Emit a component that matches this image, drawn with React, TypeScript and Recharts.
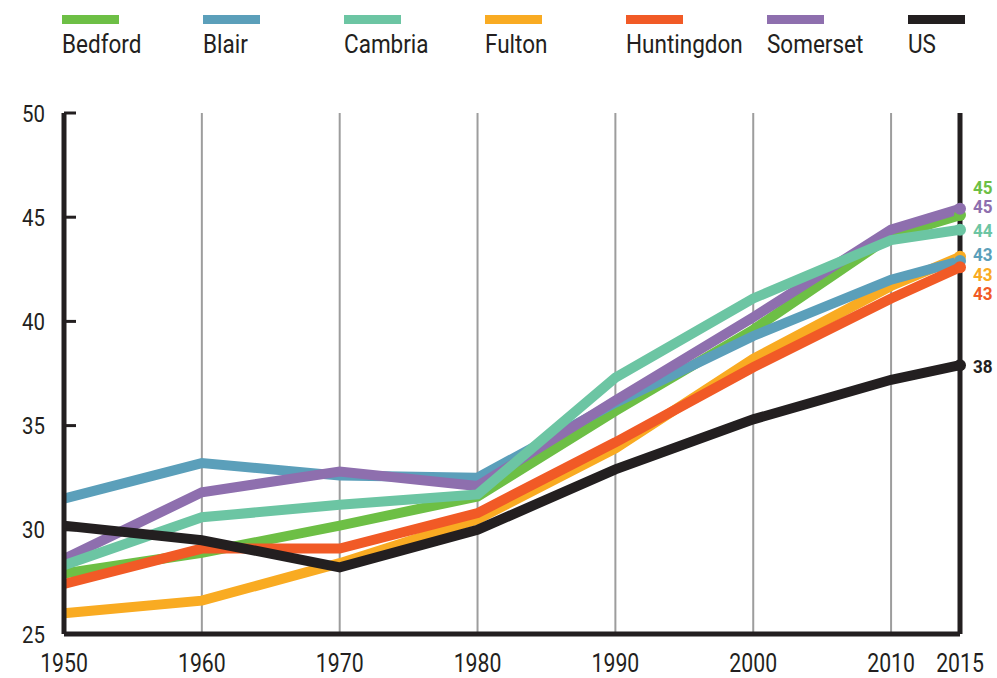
import React from 'react';
import { LineChart, Line, XAxis, YAxis, CartesianGrid, ReferenceLine, LabelList } from 'recharts';

const years = [1950, 1960, 1970, 1980, 1990, 2000, 2010, 2015];
const bedford = [27.9, 28.9, 30.2, 31.6, 35.7, 39.6, 44.1, 45.1];
const blair = [31.5, 33.2, 32.6, 32.5, 36.1, 39.3, 42.0, 42.9];
const cambria = [28.3, 30.6, 31.2, 31.7, 37.3, 41.1, 43.9, 44.4];
const fulton = [26.0, 26.6, 28.4, 30.5, 33.9, 38.2, 41.7, 43.1];
const huntingdon = [27.4, 29.1, 29.1, 30.8, 34.2, 37.8, 41.1, 42.6];
const somerset = [28.6, 31.8, 32.8, 32.1, 36.2, 40.2, 44.4, 45.4];
const us = [30.2, 29.5, 28.2, 30.0, 32.9, 35.3, 37.2, 37.9];

const yTicks = [25, 30, 35, 40, 45, 50];
const xTicks = [1950, 1960, 1970, 1980, 1990, 2000, 2010, 2015];

// labelDy nudges the end labels apart so they don't collide
const series = [
  { key: 'Bedford', values: bedford, color: '#6dbf45', labelDy: -28 },
  { key: 'Blair', values: blair, color: '#5b9fba', labelDy: -7 },
  { key: 'Cambria', values: cambria, color: '#6cc5a3', labelDy: 0 },
  { key: 'Fulton', values: fulton, color: '#f9ab22', labelDy: 17 },
  { key: 'Huntingdon', values: huntingdon, color: '#f15a26', labelDy: 26 },
  { key: 'Somerset', values: somerset, color: '#8e6fae', labelDy: -3 },
  { key: 'US', values: us, color: '#231f20', labelDy: 1 },
];

// draw order (last on top)
const drawOrder = ['Fulton', 'Bedford', 'Blair', 'Somerset', 'Cambria', 'Huntingdon', 'US'];

const data = years.map((year, i) => {
  const row: any = { year };
  series.forEach(s => {
    row[s.key] = s.values[i];
  });
  return row;
});

const FONT = 'Roboto, sans-serif';
const INK = '#231f20';
const last = years.length - 1;

// the original uses a condensed face, squeeze Roboto horizontally
const YTick = (props: any) => {
  const { x, y, payload } = props;
  return (
    <g>
      <line x1={x} x2={x + 12} y1={y} y2={y} stroke={INK} strokeWidth={3} />
      <text
        transform={`translate(${x - 19},${y + 8.5}) scale(0.85,1)`}
        textAnchor="end"
        fontFamily={FONT}
        fontSize={24}
        fill={INK}
      >
        {payload.value}
      </text>
    </g>
  );
};

const XTick = (props: any) => {
  const { x, y, payload } = props;
  return (
    <text
      transform={`translate(${x},${y + 38}) scale(0.85,1)`}
      textAnchor="middle"
      fontFamily={FONT}
      fontSize={25}
      fill={INK}
    >
      {payload.value}
    </text>
  );
};

function Legend() {
  return (
    <div style={{ position: 'absolute', left: 62, top: 15, display: 'flex', fontFamily: FONT }}>
      {series.map(s => (
        <div key={s.key} style={{ width: 141 }}>
          <div style={{ width: 57, height: 9, background: s.color }} />
          <div
            style={{
              fontSize: 25,
              color: INK,
              marginTop: 8,
              lineHeight: '25px',
              whiteSpace: 'nowrap',
              transform: 'scaleX(0.9)',
              transformOrigin: 'left',
            }}
          >
            {s.key}
          </div>
        </div>
      ))}
    </div>
  );
}

export default function App() {
  return (
    <div style={{ position: 'absolute', left: 0, top: 0, width: 997, height: 678, background: '#fff' }}>
      <Legend />
      <LineChart width={997} height={678} data={data} margin={{ top: 113, right: 37, bottom: 43, left: 63 }}>
        <CartesianGrid horizontal={false} stroke="#9d9d9d" strokeWidth={2} />
        <XAxis
          dataKey="year"
          type="number"
          domain={[1950, 2015]}
          ticks={xTicks}
          height={1}
          tickSize={0}
          tickMargin={0}
          tick={<XTick />}
          axisLine={{ stroke: INK, strokeWidth: 5 }}
          interval={0}
        />
        <YAxis
          type="number"
          domain={[25, 50]}
          ticks={yTicks}
          width={1}
          tickSize={0}
          tickMargin={0}
          tick={<YTick />}
          axisLine={{ stroke: INK, strokeWidth: 5 }}
          interval={0}
        />
        <ReferenceLine x={2015} stroke={INK} strokeWidth={5} />
        {drawOrder.map(name => {
          const s = series.find(v => v.key === name)!;
          return (
            <Line
              key={s.key}
              dataKey={s.key}
              type="linear"
              stroke={s.color}
              strokeWidth={10}
              isAnimationActive={false}
              dot={(p: any) =>
                p.index === last ? (
                  <circle key={`${s.key}-dot`} cx={p.cx} cy={p.cy} r={6} fill={s.color} />
                ) : (
                  <g key={`${s.key}-dot-${p.index}`} />
                )
              }
              activeDot={false}
            >
              <LabelList
                dataKey={s.key}
                content={(p: any) =>
                  p.index === last ? (
                    <text
                      transform={`translate(${p.x + 13},${p.y + s.labelDy + 7}) scale(0.95,1)`}
                      textAnchor="start"
                      fontFamily={FONT}
                      fontWeight="bold"
                      fontSize={18}
                      fill={s.color}
                    >
                      {Math.round(p.value)}
                    </text>
                  ) : null
                }
              />
            </Line>
          );
        })}
      </LineChart>
    </div>
  );
}
